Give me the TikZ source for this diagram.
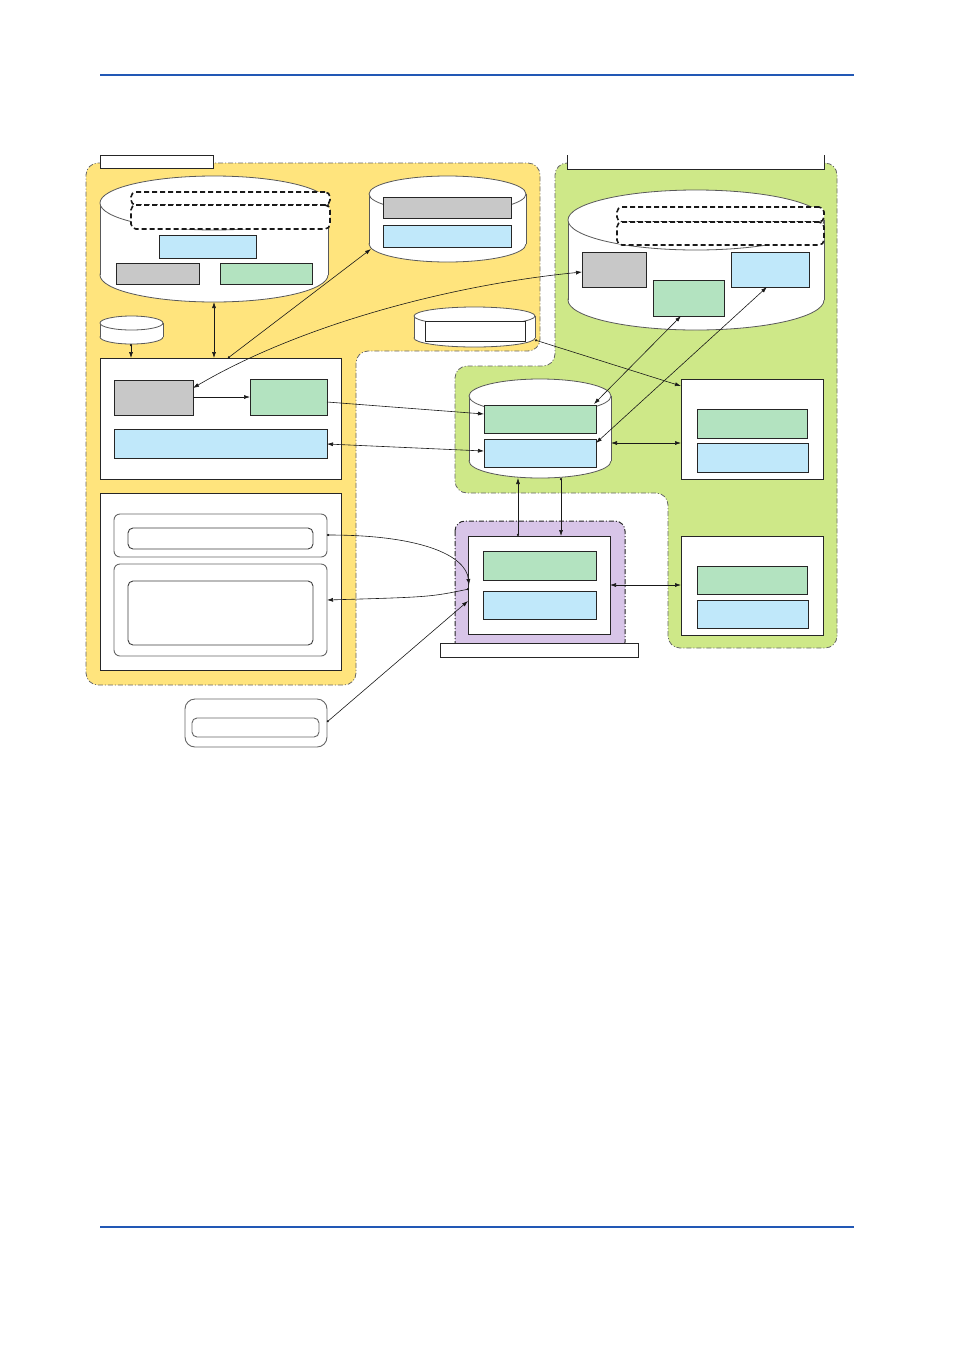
\documentclass[tikz,border=0pt]{standalone}
\usetikzlibrary{arrows.meta,fit}
\definecolor{yellowbg}{RGB}{255,228,125}
\definecolor{greenbg}{RGB}{206,232,136}
\definecolor{purplebg}{RGB}{216,197,232}
\definecolor{lblue}{RGB}{192,232,250}
\definecolor{lgreen}{RGB}{179,227,192}
\definecolor{lgray}{RGB}{200,200,200}
\definecolor{rule}{RGB}{34,88,181}
\newcommand\mycyl[5]{%
  \pgfmathsetmacro\cx{(#1+#2)/2}%
  \pgfmathsetmacro\rx{(#2-#1)/2}%
  \draw[cylline, fill=white] (\cx,#4) ellipse[x radius=\rx pt, y radius=#5pt];
  \fill[white] (#1,#3) rectangle (#2,#4);
  \draw[cylline] (#1,#3) -- (#1,#4) (#2,#3) -- (#2,#4);
  \draw[cylline, fill=white] (\cx,#3) ellipse[x radius=\rx pt, y radius=#5pt];
}
\begin{document}
\begin{tikzpicture}[x=1pt,y=-1pt,
  box/.style={draw=black!85, line width=0.8pt, inner sep=0pt, outer sep=0pt},
  wbox/.style={box, fill=white},
  graybox/.style={box, fill=lgray},
  bluebox/.style={box, fill=lblue},
  greenbox/.style={box, fill=lgreen},
  dashbox/.style={draw=black!90, line width=1.6pt, dash pattern=on 5pt off 3pt, fill=white, rounded corners=5pt, inner sep=0pt},
  rbox/.style={draw=black!60, line width=0.9pt, rounded corners=6pt, fill=white, inner sep=0pt},
  cylline/.style={draw=black!65, line width=0.8pt},
  region/.style={draw=black!60, line width=0.8pt, dash pattern=on 5pt off 2pt on 1pt off 2pt, rounded corners=12pt},
  conn/.style={line width=0.6pt, draw=black!90},
  ghost/.style={inner sep=0pt, outer sep=0pt},
  >={Latex[length=6pt,width=4pt]}
]
\useasboundingbox (0,0) rectangle (954,1350);

% header / footer rules
\draw[rule, line width=2.6pt] (100,75) -- (854,75);
\draw[rule, line width=2pt] (100,1227) -- (854,1227);

% regions
\fill[yellowbg, rounded corners=12pt] (86,163) -- (540,163) -- (540,351) -- (356,351) -- (356,685) -- (86,685) -- cycle;
\draw[region] (86,163) -- (540,163) -- (540,351) -- (356,351) -- (356,685) -- (86,685) -- cycle;
\fill[greenbg, rounded corners=12pt] (555,163) -- (837,163) -- (837,648) -- (668,648) -- (668,493) -- (455,493) -- (455,366) -- (555,366) -- cycle;
\draw[region] (555,163) -- (837,163) -- (837,648) -- (668,648) -- (668,493) -- (455,493) -- (455,366) -- (555,366) -- cycle;
\fill[purplebg, rounded corners=10pt] (455,521) rectangle (625,652);
\draw[region, draw=black!85, line width=1pt, rounded corners=10pt] (455,521) rectangle (625,652);

% label boxes
\node[wbox, fit={(100,155)(213,168)}] (lblY) {};
\fill[white] (567,150) rectangle (824,169);
\draw[line width=0.8pt, black!85] (567,155) -- (567,169) -- (824,169) -- (824,155);
\node[wbox, fit={(440,643)(638,657)}] (lblP) {};

% cylinder 1 (yellow, large)
\mycyl{100}{328}{203}{275}{27}
\node[ghost, fit={(100,176)(328,302)}] (cyl1) {};
\node[dashbox, fit={(131,192)(330,205)}] (c1d1) {};
\node[dashbox, fit={(131,205)(330,229)}] (c1d2) {};
\node[bluebox, fit={(159,235)(256,258)}] (c1b) {};
\node[graybox, fit={(116,263)(199,284)}] (c1g) {};
\node[greenbox, fit={(220,263)(312,284)}] (c1n) {};

% cylinder 2 (yellow, upper right)
\mycyl{369}{526}{194}{244}{18}
\node[ghost, fit={(369,176)(526,262)}] (cyl2) {};
\node[graybox, fit={(383,197)(511,218)}] (c2g) {};
\node[bluebox, fit={(383,225)(511,247)}] (c2b) {};

% small cylinder (yellow, left)
\mycyl{100}{163}{323}{337}{7}
\node[ghost, fit={(100,316)(163,344)}] (scyl1) {};

% small cylinder (yellow, right)
\mycyl{414}{535}{316}{338}{9}
\node[ghost, fit={(414,307)(535,347)}] (scyl2) {};
\node[wbox, fit={(425,321)(525,341)}] (s2w) {};

% cylinder 4 (green, large)
\mycyl{568}{824}{220}{300}{30}
\node[ghost, fit={(568,190)(824,330)}] (cyl4) {};
\node[dashbox, fit={(617,207)(824,222)}] (c4d1) {};
\node[dashbox, fit={(617,222)(824,245)}] (c4d2) {};
\node[graybox, fit={(582,252)(646,287)}] (c4g) {};
\node[greenbox, fit={(653,280)(724,316)}] (c4n) {};
\node[bluebox, fit={(731,252)(809,287)}] (c4b) {};

% cylinder 5 (green, middle)
\mycyl{469}{611}{396}{461}{17}
\node[ghost, fit={(469,379)(611,478)}] (cyl5) {};
\node[greenbox, fit={(484,405)(596,433)}] (c5n) {};
\node[bluebox, fit={(484,439)(596,467)}] (c5b) {};

% right boxes
\node[wbox, fit={(681,379)(823,479)}] (r1) {};
\node[greenbox, fit={(697,409)(807,438)}] (r1n) {};
\node[bluebox, fit={(697,443)(808,472)}] (r1b) {};
\node[wbox, fit={(681,536)(823,635)}] (r2) {};
\node[greenbox, fit={(697,566)(807,594)}] (r2n) {};
\node[bluebox, fit={(697,600)(808,628)}] (r2b) {};

% purple box
\node[wbox, fit={(468,536)(610,634)}] (pb) {};
\node[greenbox, fit={(483,551)(596,580)}] (pbn) {};
\node[bluebox, fit={(483,591)(596,619)}] (pbb) {};

% yellow box A
\node[wbox, fit={(100,358)(341,479)}] (ya) {};
\node[graybox, fit={(114,380)(193,415)}] (yag) {};
\node[greenbox, fit={(250,379)(327,415)}] (yan) {};
\node[bluebox, fit={(114,429)(327,458)}] (yab) {};

% yellow box B
\node[wbox, fit={(100,493)(341,670)}] (yb) {};
\node[rbox, fit={(114,514)(327,557)}] (yb1) {};
\node[rbox, draw=black!75, rounded corners=5pt, fit={(128,528)(313,549)}] (yb1i) {};
\node[rbox, fit={(114,564)(327,656)}] (yb2) {};
\node[rbox, draw=black!75, rounded corners=5pt, fit={(128,581)(313,645)}] (yb2i) {};

% standalone rounded box
\node[rbox, rounded corners=10pt, fit={(185,699)(327,747)}] (sa) {};
\node[rbox, draw=black!60, rounded corners=5pt, fit={(192,718)(319,737)}] (sai) {};

% coordinates for connector ends
\coordinate (a1s) at (131,344);
\coordinate (a1e) at (131,358);
\coordinate (a2s) at (214,302);
\coordinate (a2e) at (214,358);
\coordinate (a3s) at (228,358);
\coordinate (a3e) at (371,249);
\coordinate (a4s) at (193,388);
\coordinate (a4e) at (582,272);
\coordinate (a5s) at (193,397);
\coordinate (a5e) at (250,397);
\coordinate (a6s) at (327,402);
\coordinate (a6e) at (484,414);
\coordinate (a7s) at (327,444);
\coordinate (a7e) at (484,451);
\coordinate (a8s) at (535,340);
\coordinate (a8e) at (681,386);
\coordinate (a9s) at (681,316);
\coordinate (a9e) at (594,404);
\coordinate (a10s) at (767,287);
\coordinate (a10e) at (596,443);
\coordinate (a11s) at (611,443);
\coordinate (a11e) at (681,443);
\coordinate (a12s) at (518,536);
\coordinate (a12e) at (518,478);
\coordinate (a13s) at (561,478);
\coordinate (a13e) at (561,536);
\coordinate (a14s) at (610,585);
\coordinate (a14e) at (681,585);
\coordinate (a15s) at (327,535);
\coordinate (a15e) at (469,585);
\coordinate (a16s) at (469,589);
\coordinate (a16e) at (327,600);
\coordinate (a17s) at (327,722);
\coordinate (a17e) at (468,601);

% connectors
\draw[conn, {Circle[length=2.2pt]}->] (a1s) -- (a1e);
\draw[conn, <->] (a2s) -- (a2e);
\draw[conn, {Circle[length=2.2pt]}->] (a3s) -- (a3e);
\draw[conn, <->] (a4s) .. controls (300,325) and (450,285) .. (a4e);
\draw[conn, ->] (a5s) -- (a5e);
\draw[conn, ->] (a6s) -- (a6e);
\draw[conn, <->] (a7s) -- (a7e);
\draw[conn, {Circle[length=2.2pt]}->] (a8s) -- (a8e);
\draw[conn, <->] (a9s) -- (a9e);
\draw[conn, <->] (a10s) -- (a10e);
\draw[conn, <->] (a11s) -- (a11e);
\draw[conn, {Circle[length=2.2pt]}->] (a12s) -- (a12e);
\draw[conn, {Circle[length=2.2pt]}->] (a13s) -- (a13e);
\draw[conn, <->] (a14s) -- (a14e);
\draw[conn, {Circle[length=2.2pt]}->] (a15s) .. controls (420,535) and (466,555) .. (a15e);
\draw[conn, {Circle[length=2.2pt]}->] (a16s) .. controls (430,597) .. (a16e);
\draw[conn, {Circle[length=2.2pt]}->] (a17s) -- (a17e);
\end{tikzpicture}
\end{document}
